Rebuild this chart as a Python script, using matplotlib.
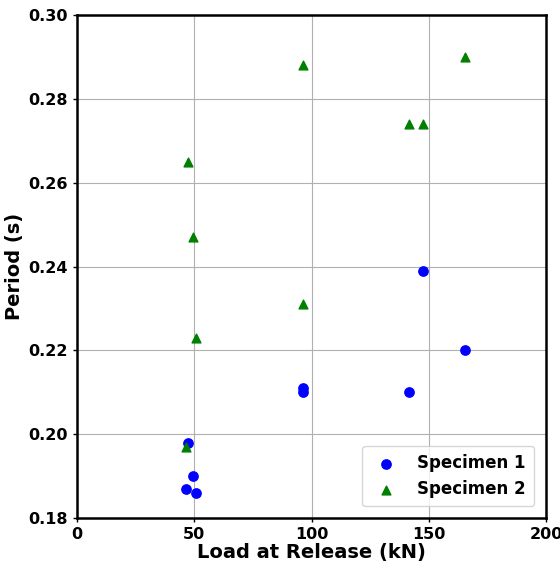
import matplotlib
matplotlib.use("Agg")
import matplotlib.pyplot as plt

# Specimen 1 (blue circles)
load1 = [47.3, 49.5, 46.5, 50.7, 96.4, 96.4, 141.6, 147.5, 165.5]
period1 = [0.198, 0.190, 0.187, 0.186, 0.211, 0.210, 0.210, 0.239, 0.220]

# Specimen 2 (green triangles)
load2 = [47.3, 49.5, 50.7, 46.5, 96.4, 96.4, 141.6, 147.5, 165.5]
period2 = [0.265, 0.247, 0.223, 0.197, 0.288, 0.231, 0.274, 0.274, 0.290]

fig = plt.figure(figsize=(5.6, 5.63), dpi=100)
ax = fig.add_axes([0.1375, 0.080, 0.8375, 0.893])

ax.scatter(load1, period1, color='blue', marker='o', s=45, label='Specimen 1', zorder=3)
ax.scatter(load2, period2, color='green', marker='^', s=40, label='Specimen 2', zorder=3)

ax.set_xlim(0, 200)
ax.set_ylim(0.18, 0.30)
ax.set_xticks([0, 50, 100, 150, 200])
ax.set_yticks([0.18, 0.20, 0.22, 0.24, 0.26, 0.28, 0.30])
ax.grid(True, color='#b0b0b0', linewidth=0.8)
ax.set_axisbelow(True)

for sp in ax.spines.values():
    sp.set_linewidth(1.8)

ax.tick_params(labelsize=11.5, width=1, length=3)
for lbl in ax.get_xticklabels() + ax.get_yticklabels():
    lbl.set_fontweight('bold')

ax.set_xlabel('Load at Release (kN)', fontsize=14, fontweight='bold', labelpad=1)
ax.set_ylabel('Period (s)', fontsize=14, fontweight='bold', labelpad=3)

leg = ax.legend(loc='lower right', prop={'weight': 'bold', 'size': 12},
                handletextpad=1.0, labelspacing=0.45, borderpad=0.5,
                handlelength=1.8, borderaxespad=0.7)

fig.savefig('out.png', dpi=100)
